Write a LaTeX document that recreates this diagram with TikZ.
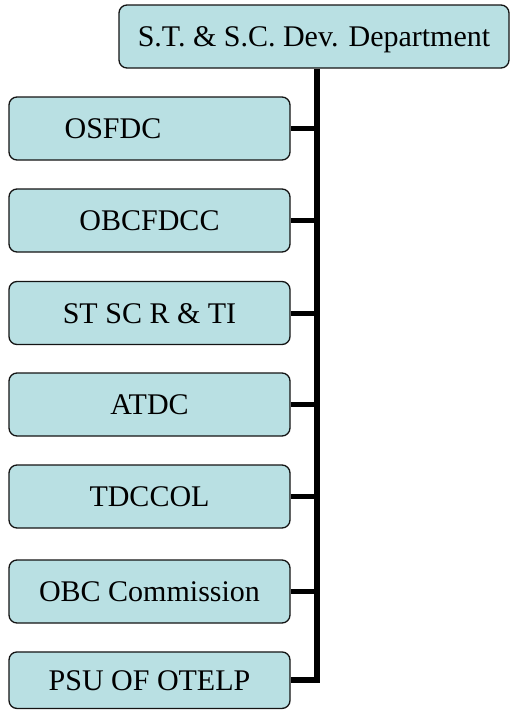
\documentclass[tikz,border=0pt]{standalone}
\usepackage{fontspec}
\setmainfont{Liberation Serif}
\definecolor{boxfill}{RGB}{185,224,227}
\definecolor{boxline}{RGB}{20,20,20}
\begin{document}
\begin{tikzpicture}[x=1pt,y=1pt,
  orgbox/.style={draw=boxline, line width=1.3pt, fill=boxfill, rounded corners=8pt,
    inner sep=0pt, minimum height=63pt, text height=20pt, text depth=0pt,
    font=\fontsize{30}{30}\selectfont},
  subbox/.style={orgbox, minimum width=281pt},
  link/.style={line width=5pt, line join=miter, line cap=butt}]
\useasboundingbox (0,0) rectangle (510,-710);
\node[orgbox, minimum width=390pt] (top) at (314,-36.5) {S.T. \& S.C. Dev. Department};
\node[subbox] (osfdc) at (149.5,-128.5) {OSFDC\hspace*{73pt}};
\node[subbox] (obcfdcc) at (149.5,-220.5) {OBCFDCC};
\node[subbox] (stsc) at (149.5,-313) {ST SC R \& TI};
\node[subbox] (atdc) at (149.5,-404.5) {ATDC};
\node[subbox] (tdccol) at (149.5,-496.5) {TDCCOL};
\node[subbox] (obcc) at (149.5,-591.5) {OBC Commission};
\node[subbox, minimum height=56.5pt] (psu) at (149.5,-680.2) {PSU OF OTELP};
\coordinate (spine) at (317,-68);
\draw[link, line width=5.5pt] (top.south -| spine) |- (psu.east);
\foreach \n in {osfdc,obcfdcc,stsc,atdc,tdccol,obcc}
  \draw[link] (\n.east) -- (\n.east -| spine);
\end{tikzpicture}
\end{document}
